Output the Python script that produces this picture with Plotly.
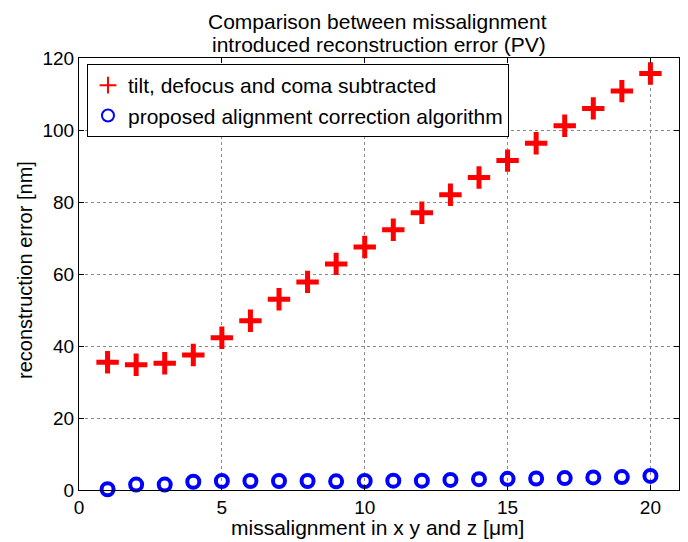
import plotly.graph_objects as go

x_vals = list(range(1, 21))
tilt_defocus_coma = [35.5, 34.8, 35.2, 37.5, 42.3, 47.0, 53.0, 57.8, 62.8, 67.5,
                     72.3, 77.0, 82.0, 86.8, 91.5, 96.3, 101.2, 106.0, 110.8, 115.7]
proposed = [0.2, 1.5, 1.5, 2.3, 2.5, 2.5, 2.5, 2.5, 2.4, 2.5,
            2.6, 2.6, 2.8, 3.0, 3.1, 3.2, 3.3, 3.5, 3.6, 3.9]
x_ticks = [0, 5, 10, 15, 20]
y_ticks = [0, 20, 40, 60, 80, 100, 120]
title_lines = ["Comparison between missalignment", "introduced reconstruction error (PV)"]

font = "Liberation Sans, Arial, Helvetica, sans-serif"

fig = go.Figure()
fig.add_trace(go.Scatter(
    x=x_vals, y=tilt_defocus_coma, mode="markers",
    name="tilt, defocus and coma subtracted",
    marker=dict(symbol="cross-thin", size=16, line=dict(color="#ff0000", width=5), color="#ff0000"),
    cliponaxis=False,
))
fig.add_trace(go.Scatter(
    x=x_vals, y=proposed, mode="markers",
    name="proposed alignment correction algorithm",
    marker=dict(symbol="circle-open", size=12, line=dict(color="#0000ff", width=4), color="#0000ff"),
    cliponaxis=False,
))

axis_common = dict(
    showline=True, linecolor="black", linewidth=1, mirror="ticks",
    ticks="inside", ticklen=5, tickcolor="black",
    showgrid=True, gridcolor="#8a8a8a", griddash="dot", gridwidth=1,
    zeroline=False, tickfont=dict(size=19, color="black", family=font),
)

fig.update_layout(
    width=680, height=534,
    margin=dict(l=71, r=9, t=50, b=52),
    paper_bgcolor="white", plot_bgcolor="white",
    font=dict(family=font, size=21, color="black"),
    xaxis=dict(range=[0, 21], tickvals=x_ticks, **axis_common),
    yaxis=dict(range=[0, 120], tickvals=y_ticks, **axis_common),
    legend=dict(
        x=0.0133, y=0.986, xanchor="left", yanchor="top",
        bgcolor="white", bordercolor="black", borderwidth=1,
        font=dict(size=21, family=font, color="black"),
        itemsizing="constant", tracegroupgap=0,
    ),
    showlegend=True,
    annotations=[
        dict(text=title_lines[0],
             xref="paper", yref="paper", x=0.497, y=1, xanchor="center", yanchor="middle",
             yshift=37, borderpad=0, showarrow=False, font=dict(size=21, family=font, color="black")),
        dict(text=title_lines[1],
             xref="paper", yref="paper", x=0.5, y=1, xanchor="center", yanchor="middle",
             yshift=14, borderpad=0, showarrow=False, font=dict(size=21, family=font, color="black")),
        dict(text="missalignment in x y and z [μm]",
             xref="paper", yref="paper", x=0.497, y=0, xanchor="center", yanchor="middle",
             yshift=-37, showarrow=False, font=dict(size=21, family=font, color="black")),
        dict(text="reconstruction error [nm]", textangle=-90,
             xref="paper", yref="paper", x=0, y=0.5, xanchor="center", yanchor="middle",
             xshift=-54, yshift=4, showarrow=False, font=dict(size=20, family=font, color="black")),
    ],
)

fig.write_html("out.html")
